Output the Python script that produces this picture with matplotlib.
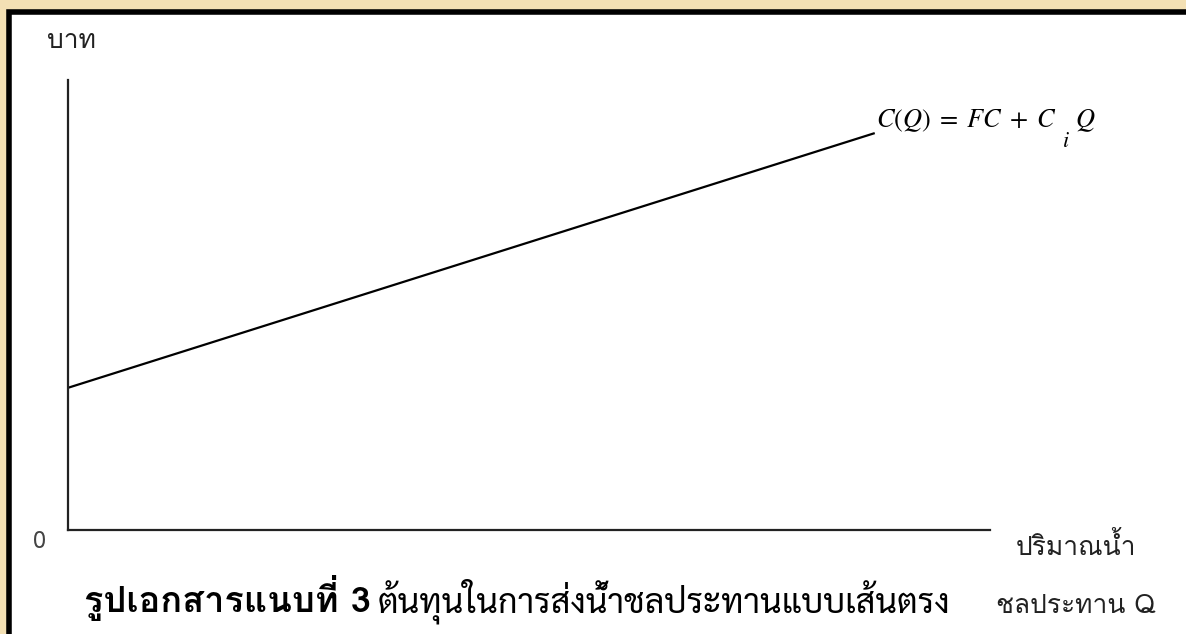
import matplotlib
matplotlib.use("Agg")
import matplotlib.pyplot as plt
from matplotlib.patches import Rectangle, Circle

plt.rcParams['mathtext.fontset'] = 'stix'

# cost line (axes run 0..100 both ways)
q_values = [0, 87.5]
cost_values = [31.6, 88.2]

y_label = "บาท"
x_label_top = "ปริมาณน้ำ"
x_label_bottom = "ชลประทาน Q"
origin_label = "0"
equation_left = r"$C(Q)\;=\;FC\;+\;C$"
equation_sub = r"$i$"
equation_right = r"$Q$"
caption_bold = "รูปเอกสารแนบที่ 3"
caption_rest = "ต้นทุนในการส่งน้ำชลประทานแบบเส้นตรง"

W, H = 1186, 634
fig = plt.figure(figsize=(W / 100, H / 100), dpi=100, facecolor='#f3e0b4')


def fx(x):
    return x / W


def fy(y):
    return 1 - y / H


# background decoration and the white framed panel
fig.patches.append(Circle((fx(25), fy(-45)), 0.055, transform=fig.transFigure,
                          facecolor='#f7ebcc', edgecolor='#e6cf9a', lw=1, zorder=-2))
fig.patches.append(Rectangle((fx(8.5), fy(700)), fx(1300), fy(12.5) - fy(700),
                             transform=fig.transFigure, facecolor='white',
                             edgecolor='black', lw=4, zorder=-1))

ax = fig.add_axes([fx(68), fy(530), fx(990) - fx(68), fy(80) - fy(530)])
ax.set_zorder(2)
ax.set_facecolor('none')
ax.plot(q_values, cost_values, color='black', lw=1.6, solid_capstyle='butt')
ax.set_xlim(0, 100)
ax.set_ylim(0, 100)
ax.set_xticks([])
ax.set_yticks([])
for side in ['top', 'right']:
    ax.spines[side].set_visible(False)
for side in ['left', 'bottom']:
    ax.spines[side].set_linewidth(1.6)
    ax.spines[side].set_color('#222222')

label_font = ['Loma', 'DejaVu Sans']
fig.text(fx(71), fy(41), y_label, ha='center', va='center', fontsize=19,
         family=label_font, color='#222222')
fig.text(fx(40), fy(542), origin_label, ha='center', va='center', fontsize=17,
         family=label_font, color='#444444')
fig.text(fx(1076), fy(555), x_label_top, ha='center', va='baseline', fontsize=19,
         family=label_font, color='#222222')
fig.text(fx(1076), fy(613), x_label_bottom, ha='center', va='baseline', fontsize=19,
         family=label_font, color='#222222')

fig.text(fx(876), fy(127), equation_left, ha='left', va='baseline', fontsize=19)
fig.text(fx(1062), fy(147), equation_sub, ha='left', va='baseline', fontsize=16)
fig.text(fx(1075), fy(127), equation_right, ha='left', va='baseline', fontsize=19)

fig.text(fx(84), fy(612), caption_bold, ha='left', va='baseline', fontsize=26,
         family=['Loma', 'Sarabun', 'DejaVu Sans'], fontweight='bold')
fig.text(fx(378), fy(612), caption_rest, ha='left', va='baseline', fontsize=24.5,
         family=['Sarabun', 'DejaVu Sans'])

fig.savefig("out.png", dpi=100, facecolor=fig.get_facecolor())
